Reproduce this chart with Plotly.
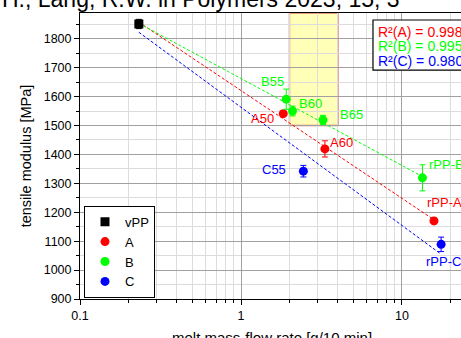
import numpy as np
import plotly.graph_objects as go

# ---------------- data ----------------
vpp_x = [0.232]
vpp_y = [1851]
vpp_err = [16]

a_labels = ["A50", "A60", "rPP-A"]
a_x = [1.83, 3.32, 15.8]
a_y = [1541, 1419, 1170]
a_err = [8, 28, 10]

b_labels = ["B55", "B60", "B65", "rPP-B"]
b_x = [1.91, 2.09, 3.23, 13.4]
b_y = [1591, 1550, 1519, 1319]
b_err = [35, 17, 16, 45]

c_labels = ["C55", "rPP-C"]
c_x = [2.44, 17.5]
c_y = [1342, 1089]
c_err = [20, 25]

r2_names = ["A", "B", "C"]
r2_values = [0.998, 0.995, 0.980]

window_x = [2, 4]
window_y_min = 1500

y_ticks = [900, 1000, 1100, 1200, 1300, 1400, 1500, 1600, 1700, 1800]
x_ticks = [0.1, 1, 10]

x_title = "melt mass-flow rate [g/10 min]"
y_title = "tensile modulus [MPa]"

# ---------------- style ----------------
RED, GREEN, BLUE = "#ff0000", "#00ff00", "#0000ff"
FONT = "Arial, Liberation Sans, sans-serif"

# label offsets (px): (xshift, yshift, xanchor)
a_off = {"A50": (-21, -5, "center"), "A60": (17, 6, "center"), "rPP-A": (-9, 18, "left")}
b_off = {"B55": (-14, 18, "center"), "B60": (18, 8, "center"), "B65": (29, 6, "center"),
         "rPP-B": (5, 13, "left")}
c_off = {"C55": (-29, 2, "center"), "rPP-C": (-17, -17, "left")}

fig = go.Figure()

# fit lines (linear in log10 x), including vPP point
def fit_line(xs, ys, color):
    allx = np.array(vpp_x + xs, dtype=float)
    ally = np.array(vpp_y + ys, dtype=float)
    k, d = np.polyfit(np.log10(allx), ally, 1)
    xe = np.array([allx.min(), allx.max()])
    fig.add_trace(go.Scatter(x=xe, y=k * np.log10(xe) + d, mode="lines",
                             line=dict(color=color, width=1, dash="3px,2px"),
                             showlegend=False, hoverinfo="skip"))

fit_line(a_x, a_y, RED)
fit_line(b_x, b_y, GREEN)
fit_line(c_x, c_y, BLUE)

def series(name, xs, ys, errs, color, symbol):
    fig.add_trace(go.Scatter(
        x=xs, y=ys, mode="markers", name=name,
        marker=dict(color=color, size=9, symbol=symbol, line=dict(width=0)),
        error_y=dict(type="data", array=errs, color=color, thickness=1, width=3),
    ))

series("vPP", vpp_x, vpp_y, vpp_err, "#000000", "square")
series("A", a_x, a_y, a_err, RED, "circle")
series("B", b_x, b_y, b_err, GREEN, "circle")
series("C", c_x, c_y, c_err, BLUE, "circle")

annotations = []
for labels, xs, ys, offs, col in [(a_labels, a_x, a_y, a_off, RED),
                                  (b_labels, b_x, b_y, b_off, GREEN),
                                  (c_labels, c_x, c_y, c_off, BLUE)]:
    for lab, xv, yv in zip(labels, xs, ys):
        dx, dy, anc = offs[lab]
        annotations.append(dict(x=np.log10(xv), y=yv, xref="x", yref="y", text=lab,
                                showarrow=False, xshift=dx, yshift=dy, xanchor=anc,
                                font=dict(family=FONT, size=13, color=col)))

# R² box
r2_colors = [RED, GREEN, BLUE]
r2_y = [0.933, 0.885, 0.832]
for nm, val, col, yy in zip(r2_names, r2_values, r2_colors, r2_y):
    annotations.append(dict(xref="paper", yref="paper", x=0.778, y=yy, xanchor="left",
                            yanchor="middle", showarrow=False,
                            text=f"R²({nm}) = {val:.3f}",
                            font=dict(family=FONT, size=14, color=col)))

# clipped citation on top
annotations.append(dict(xref="paper", yref="paper", x=0, y=1, xanchor="left", yanchor="bottom",
                        xshift=-80, yshift=-1, showarrow=False,
                        text="H., Lang, R.W. in Polymers 2023, 15, 3",
                        font=dict(family=FONT, size=23, color="#000000")))

# x-axis title (partly below the visible page, as in the reference)
annotations.append(dict(xref="paper", yref="paper", x=0.503, y=0, xanchor="center", yanchor="top",
                        yshift=-28, showarrow=False, text=x_title,
                        font=dict(family=FONT, size=15, color="#000000")))

shapes = [
    dict(type="rect", xref="x", yref="y", x0=window_x[0], x1=window_x[1],
         y0=window_y_min, y1=1889, fillcolor="#ffffb8", line=dict(color="#e07a6a", width=1.5),
         layer="below"),
    dict(type="rect", xref="paper", yref="paper", x0=0.769, x1=1.2, y0=0.8, y1=0.9755,
         fillcolor="white", line=dict(color="black", width=1.2), layer="above"),
]

fig.update_layout(
    template="none",
    width=461, height=338,
    margin=dict(l=80, r=0, t=13, b=39, autoexpand=False),
    paper_bgcolor="white", plot_bgcolor="white",
    font=dict(family=FONT, size=12, color="#000000"),
    showlegend=True,
    legend=dict(x=0.0105, y=0.326, xanchor="left", yanchor="top",
                bordercolor="black", borderwidth=1, bgcolor="white",
                font=dict(family=FONT, size=13), itemwidth=30, tracegroupgap=0),
    annotations=annotations,
    shapes=shapes,
    xaxis=dict(type="log", range=[-1, 1.3665], tickvals=x_ticks, ticktext=["0.1", "1", "10"],
               automargin=False,
               showline=True, linecolor="black", linewidth=1, mirror=True,
               ticks="outside", ticklen=5, tickcolor="black",
               showgrid=True, gridcolor="#a0a0a0", gridwidth=1, zeroline=False,
               minor=dict(dtick="D1", ticks="outside", ticklen=3, tickcolor="black",
                          showgrid=True, gridcolor="#dcdcdc"),
               tickfont=dict(size=12.5)),
    yaxis=dict(range=[900, 1889], tickvals=y_ticks, automargin=False,
               showline=True, linecolor="black", linewidth=1, mirror=False,
               ticks="outside", ticklen=5, tickcolor="black",
               showgrid=True, gridcolor="#a0a0a0", gridwidth=1, zeroline=False,
               minor=dict(dtick=50, ticks="outside", ticklen=3, tickcolor="black",
                          showgrid=True, gridcolor="#dcdcdc"),
               tickfont=dict(size=12.5),
               title=dict(text=y_title, font=dict(size=14.5), standoff=8)),
)

fig.write_html("out.html")
